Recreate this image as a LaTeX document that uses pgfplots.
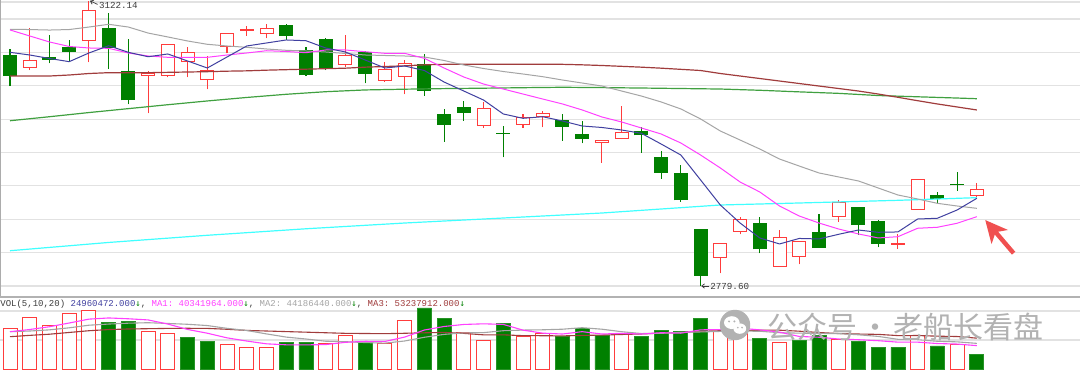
\documentclass[border=0pt]{standalone}
\usepackage{pgfplots}
\pgfplotsset{compat=1.18}
\usepackage{pgfplotstable}
\usepackage{fontspec}
\setmonofont{Liberation Mono}
\newfontfamily\cjk{Noto Sans CJK SC}
\newfontfamily\djv{DejaVu Sans Mono}
\usetikzlibrary{arrows.meta}

\definecolor{cred}{RGB}{255,60,60}
\definecolor{cgreen}{RGB}{0,128,0}
\definecolor{ma5c}{RGB}{64,64,160}
\definecolor{ma10c}{RGB}{255,64,255}
\definecolor{ma20c}{RGB}{165,165,165}
\definecolor{ma60c}{RGB}{160,60,60}
\definecolor{ma120c}{RGB}{64,160,64}
\definecolor{ma250c}{RGB}{64,255,255}
\definecolor{gridc}{RGB}{226,226,226}
\definecolor{txtc}{RGB}{60,60,60}
\definecolor{wmc}{RGB}{178,178,178}
\definecolor{arrc}{RGB}{240,80,80}

% candles: index, open, high, low, close
\pgfplotstableread{
i o h l c
1 3042.1 3088.9 3038.9 3050.5
4 3074.0 3122.14 3048.1 3110.8
7 3032.9 3037.7 2987.0 3035.0
8 3032.9 3069.7 3030.2 3069.7
9 3048.9 3066.8 3030.2 3059.3
10 3027.3 3056.0 3015.8 3038.5
11 3066.8 3082.1 3058.9 3082.1
12 3086.6 3091.6 3080.0 3087.0
13 3082.4 3094.0 3076.9 3088.4
17 3045.7 3080.9 3042.9 3055.7
19 3026.6 3048.9 3024.9 3040.1
20 3031.4 3050.9 3009.8 3046.9
24 2972.2 3000.2 2969.8 2993.0
26 2973.8 2986.2 2969.8 2982.2
27 2982.9 2989.8 2970.2 2986.2
30 2951.8 2954.7 2927.8 2954.7
31 2957.1 2996.1 2956.2 2964.2
36 2813.9 2831.2 2795.2 2831.2
37 2845.6 2863.1 2842.0 2860.0
39 2803.6 2846.8 2803.6 2837.9
40 2815.6 2833.1 2806.0 2833.1
42 2863.6 2883.1 2857.1 2879.5
45 2830.2 2842.0 2824.4 2830.6
46 2872.0 2908.3 2872.0 2907.4
49 2888.7 2903.8 2884.7 2895.1
}\redc

\pgfplotstableread{
i o h l c
0 3056.0 3064.1 3019.7 3032.1
2 3054.1 3080.9 3046.9 3051.7
3 3066.5 3074.9 3048.5 3060.8
5 3089.2 3106.9 3040.1 3066.1
6 3036.9 3075.7 2997.8 3002.9
14 3092.0 3094.0 3074.9 3080.0
15 3062.9 3066.8 3031.7 3032.9
16 3076.1 3077.0 3038.9 3041.7
18 3060.1 3061.5 3023.0 3035.0
21 3045.7 3057.7 3008.1 3014.1
22 2985.8 2992.2 2953.0 2973.8
23 2994.2 3001.8 2978.1 2988.2
25 2963.2 2971.8 2934.3 2962.8
28 2978.1 2986.2 2954.2 2971.4
29 2961.8 2978.1 2951.1 2957.1
32 2965.8 2971.0 2939.8 2961.0
33 2934.3 2942.2 2908.6 2916.3
34 2915.1 2925.1 2881.1 2883.1
35 2848.3 2848.3 2779.6 2792.4
38 2854.7 2863.1 2819.2 2824.4
41 2844.4 2866.0 2825.9 2825.9
43 2873.9 2873.9 2841.2 2853.5
44 2857.6 2859.1 2826.4 2830.7
47 2889.1 2893.1 2878.3 2884.3
48 2901.3 2916.3 2894.2 2900.9
}\greenc

\pgfplotstableread{
i ma5 ma10 ma20 ma60
0 3060.1 3086.9 3087.7 3031.7
1 3056.9 3079.7 3087.4 3031.7
2 3052.7 3072.5 3086.8 3031.7
3 3048.9 3067.1 3087.4 3032.9
4 3059.3 3065.3 3090.4 3034.7
5 3068.0 3064.9 3093.7 3035.7
6 3060.1 3059.3 3090.4 3035.7
7 3054.8 3055.7 3083.2 3035.7
8 3058.1 3054.1 3078.5 3036.1
9 3049.7 3054.1 3073.7 3036.5
10 3041.3 3054.1 3069.7 3036.9
11 3054.5 3056.9 3067.7 3037.5
12 3067.7 3059.3 3066.1 3037.9
13 3071.3 3062.0 3064.1 3038.7
14 3074.9 3061.1 3062.5 3039.3
15 3074.0 3059.6 3061.7 3039.9
16 3065.3 3062.9 3060.5 3040.5
17 3060.5 3062.9 3058.7 3041.1
18 3050.9 3060.8 3056.9 3042.3
19 3041.3 3058.9 3056.3 3043.1
20 3043.7 3058.9 3055.7 3043.9
21 3038.3 3052.9 3054.5 3045.1
22 3024.5 3041.3 3050.3 3045.7
23 3013.7 3030.5 3044.9 3045.7
24 3002.9 3022.1 3040.7 3045.7
25 2986.2 3016.1 3037.1 3045.7
26 2981.0 3010.1 3034.1 3045.7
27 2982.9 3004.1 3030.9 3045.7
28 2977.8 2998.2 3026.9 3045.7
29 2971.8 2991.0 3023.3 3045.1
30 2970.0 2982.6 3019.7 3044.3
31 2967.0 2976.6 3013.7 3043.3
32 2963.0 2969.4 3007.7 3042.3
33 2950.2 2962.2 3000.6 3041.1
34 2937.0 2951.4 2992.2 3039.7
35 2907.1 2937.0 2980.2 3038.3
36 2877.1 2921.5 2965.8 3034.7
37 2855.5 2904.7 2955.0 3031.7
38 2837.6 2892.7 2944.2 3028.7
39 2830.4 2875.9 2932.2 3025.7
40 2837.0 2863.9 2923.8 3022.7
41 2836.4 2855.5 2915.5 3019.7
42 2842.0 2848.3 2910.7 3016.7
43 2847.1 2842.4 2905.9 3013.7
44 2844.4 2837.6 2897.5 3010.1
45 2844.8 2839.1 2889.1 3006.2
46 2860.3 2849.2 2884.3 3002.1
47 2861.2 2850.4 2879.1 2998.2
48 2871.1 2855.2 2875.9 2994.6
49 2885.1 2863.1 2873.1 2991.0
}\mas

\pgfplotstableread{
i v
0 2978.1
2 2982.9
4 2987.9
6 2992.6
8 2997.3
10 3001.8
12 3006.0
14 3009.8
16 3012.9
18 3015.0
20 3015.9
22 3016.6
24 3017.1
26 3017.7
28 3018.2
30 3017.8
32 3017.3
34 3016.7
36 3016.1
38 3014.6
40 3012.7
42 3010.9
44 3008.3
46 3006.8
48 3005.3
49 3004.5
}\maonetwenty

\pgfplotstableread{
i v
0 2822.3
5 2832.2
10 2840.8
15 2848.6
20 2855.5
25 2861.5
30 2867.5
36 2877.1
40 2879.5
45 2882.7
49 2885.9
}\matwofifty

% volume (millions)
\pgfplotstableread{
i v
0 69.8
1 88.8
2 75.0
3 96.0
4 100.5
7 65.0
8 60.9
11 41.4
12 37.4
13 37.1
16 44.0
17 56.9
19 44.3
20 84.0
23 63.3
24 49.7
26 55.7
27 61.5
31 61.5
36 64.3
37 67.2
39 46.0
42 51.7
46 57.8
48 42.8
}\volred

\pgfplotstableread{
i v
5 79.8
6 81.5
9 54.0
10 47.1
14 45.7
15 46.5
18 45.7
21 105.2
22 87.4
25 79.0
28 55.7
29 70.2
30 58.6
32 55.7
33 67.2
34 65.5
35 87.4
38 52.9
40 50.0
41 57.8
43 47.1
44 37.4
45 37.4
47 39.7
49 25.0
}\volgreen

\pgfplotstableread{
i m5 m10 m20
0 64.3 64.3 55.7
1 68.1 65.5 58.0
2 72.9 67.5 60.0
3 79.3 71.0 63.0
4 86.0 75.5 66.0
5 88.0 77.5 68.0
6 86.6 79.0 69.0
7 84.6 79.8 69.5
8 77.5 78.5 70.0
9 68.2 77.1 70.2
10 61.7 74.9 70.0
11 53.7 70.1 68.5
12 48.2 66.4 66.5
13 43.4 60.5 65.5
14 41.7 55.0 64.5
15 41.6 51.7 63.5
16 42.1 47.9 62.5
17 46.0 47.1 61.5
18 47.8 45.6 61.2
19 47.5 44.6 60.9
20 55.0 48.3 61.6
21 67.2 54.7 62.4
22 73.3 59.7 63.1
23 76.8 62.3 61.4
24 77.9 62.7 58.9
25 76.9 66.0 58.9
26 67.0 67.1 57.5
27 61.8 67.6 57.4
28 60.3 68.6 57.1
29 64.4 71.2 57.9
30 60.3 68.6 58.5
31 61.5 64.3 59.5
32 60.3 61.1 60.4
33 62.6 61.5 61.9
34 61.7 63.1 62.9
35 67.5 63.9 65.0
36 68.0 64.8 66.0
37 70.3 65.3 66.5
38 67.5 65.1 66.9
39 63.6 62.6 66.9
40 56.1 61.8 65.2
41 54.8 61.4 62.9
42 51.7 61.0 61.1
43 50.5 59.0 60.3
44 48.8 56.2 59.7
45 46.3 51.2 57.6
46 46.3 50.5 57.7
47 43.9 47.8 56.6
48 43.0 46.8 56.0
49 40.3 44.2 53.2
}\volma

\pgfplotsset{
  candle/.style={draw=none, mark=none, forget plot,
    error bars/.cd, y dir=plus, y explicit, error mark=none},
}

\begin{document}
\begin{tikzpicture}
\useasboundingbox (0,0) rectangle (540pt,186pt);
\fill[white] (0,0) rectangle (540pt,186pt);

% ---------------- main price panel ----------------
\begin{axis}[
  at={(0pt,41pt)}, anchor=south west, scale only axis,
  width=540pt, height=145pt,
  xmin=-0.507, xmax=54.23, ymin=2775.2, ymax=3122.8,
  enlargelimits=false, clip=false,
  axis line style={draw=none}, major tick length=0pt,
  xtick=\empty, ytick=\empty,
]
% horizontal grid lines
\pgfplotsinvokeforeach{2780,2820,2860,2900,2940,2980,3020,3060,3100,3120.4}{
  \addplot[gridc, line width=0.6pt, mark=none, forget plot] coordinates {(-0.507,#1) (54.23,#1)};
}
% wicks
\addplot[candle, error bar style={draw=cgreen, line width=0.55pt}]
  table[x=i, y=l, y error expr={\thisrow{h}-\thisrow{l}}] {\greenc};
\addplot[candle, error bar style={draw=cred, line width=0.55pt}]
  table[x=i, y=l, y error expr={\thisrow{h}-\thisrow{l}}] {\redc};
% green bodies
\addplot[candle, error bar style={draw=cgreen, line width=7pt}]
  table[x=i, y expr={min(\thisrow{o},\thisrow{c})-0.4},
        y error expr={abs(\thisrow{o}-\thisrow{c})+0.8}] {\greenc};
% red bodies (outline + white inside)
\addplot[candle, error bar style={draw=cred, line width=7pt}]
  table[x=i, y expr={min(\thisrow{o},\thisrow{c})-0.6},
        y error expr={abs(\thisrow{o}-\thisrow{c})+1.2}] {\redc};
\addplot[candle, error bar style={draw=white, line width=6pt}]
  table[x=i, y expr={min(\thisrow{o},\thisrow{c})+0.6},
        y error expr={max(abs(\thisrow{o}-\thisrow{c})-1.2,0)}] {\redc};
% moving averages
\addplot[ma250c, line width=0.6pt, mark=none] table[x=i, y=v] {\matwofifty};
\addplot[ma120c, line width=0.6pt, mark=none] table[x=i, y=v] {\maonetwenty};
\addplot[ma60c, line width=0.6pt, mark=none] table[x=i, y=ma60] {\mas};
\addplot[ma20c, line width=0.5pt, mark=none] table[x=i, y=ma20] {\mas};
\addplot[ma10c, line width=0.5pt, mark=none] table[x=i, y=ma10] {\mas};
\addplot[ma5c, line width=0.5pt, mark=none] table[x=i, y=ma5] {\mas};
\end{axis}

% ---------------- volume panel ----------------
\begin{axis}[
  at={(0pt,0pt)}, anchor=south west, scale only axis,
  width=540pt, height=37.5pt,
  xmin=-0.507, xmax=54.23, ymin=-5.17, ymax=124.1,
  enlargelimits=false, clip=false,
  axis line style={draw=none}, major tick length=0pt,
  xtick=\empty, ytick=\empty,
]
\pgfplotsinvokeforeach{50,100}{
  \addplot[gridc, line width=0.6pt, mark=none, forget plot] coordinates {(-0.507,#1) (54.23,#1)};
}
\addplot[ybar, bar width=7pt, bar shift=0pt, draw=cred, fill=white, line width=0.5pt]
  table[x=i, y=v] {\volred};
\addplot[ybar, bar width=7pt, bar shift=0pt, draw=cgreen!85!white, fill=cgreen, line width=0.4pt]
  table[x=i, y=v] {\volgreen};
\addplot[ma60c, line width=0.55pt, mark=none] table[x=i, y=m20] {\volma};
\addplot[ma20c, line width=0.55pt, mark=none] table[x=i, y=m10] {\volma};
\addplot[ma10c, line width=0.55pt, mark=none] table[x=i, y=m5] {\volma};
\end{axis}

% panel borders
\draw[gray!65, line width=0.7pt] (0.35pt,37.5pt) -- (0.35pt,186pt);
\draw[gray!60, line width=0.9pt] (0pt,37.5pt) -- (540pt,37.5pt);

% extreme value labels
\draw[txtc, line width=0.35pt, -{Straight Barb[length=1.4pt,width=2.2pt]}] (48.8pt,183.8pt) -- (45pt,185.6pt);
\node[anchor=base west, inner sep=0pt, text=txtc, font=\ttfamily\fontsize{4.6}{5}\selectfont] at (49.3pt,181.9pt) {3122.14};
\draw[txtc, line width=0.35pt, -{Straight Barb[length=1.4pt,width=2.2pt]}] (354.5pt,43pt) -- (350.6pt,43pt);
\node[anchor=base west, inner sep=0pt, text=txtc, font=\ttfamily\fontsize{4.6}{5}\selectfont] at (355pt,41.2pt) {2779.60};

% volume header
\node[anchor=base west, inner sep=0pt, font=\ttfamily\fontsize{4.5}{5}\selectfont] at (0pt,32.8pt)
  {\textcolor{txtc}{VOL(5,10,20)} \textcolor{ma5c}{24960472.000}\textcolor{cgreen}{\djv ↓}\textcolor{txtc}{,} \textcolor{ma10c}{MA1: 40341964.000}\textcolor{cgreen}{\djv ↓}\textcolor{txtc}{,} \textcolor{ma20c}{MA2: 44186440.000}\textcolor{cgreen}{\djv ↓}\textcolor{txtc}{,} \textcolor{ma60c}{MA3: 53237912.000}\textcolor{cgreen}{\djv ↓}};

% watermark
\begin{scope}[shift={(367.5pt,23.5pt)}]
\fill[wmc] (0,0) circle (7.6pt);
\fill[white] (-1.6pt,1.2pt) ellipse (3.9pt and 3.2pt);
\fill[white] (2.4pt,-1.8pt) ellipse (3.2pt and 2.6pt);
\fill[wmc] (-3pt,1.8pt) circle (0.55pt);
\fill[wmc] (-0.3pt,1.8pt) circle (0.55pt);
\fill[wmc] (1.4pt,-1.3pt) circle (0.45pt);
\fill[wmc] (3.5pt,-1.3pt) circle (0.45pt);
\end{scope}
\node[anchor=base west, inner sep=0pt, text=wmc, font=\cjk\fontsize{15}{16}\selectfont] at (383.5pt,16.6pt) {公众号\hspace{0.1em}・\hspace{0.1em}老船长看盘};

% red arrow
\draw[arrc, line width=2.2pt, -{Stealth[length=11pt, width=10.5pt, inset=3pt]}] (506.8pt,59.4pt) -- (492.6pt,76pt);
\end{tikzpicture}
\end{document}
